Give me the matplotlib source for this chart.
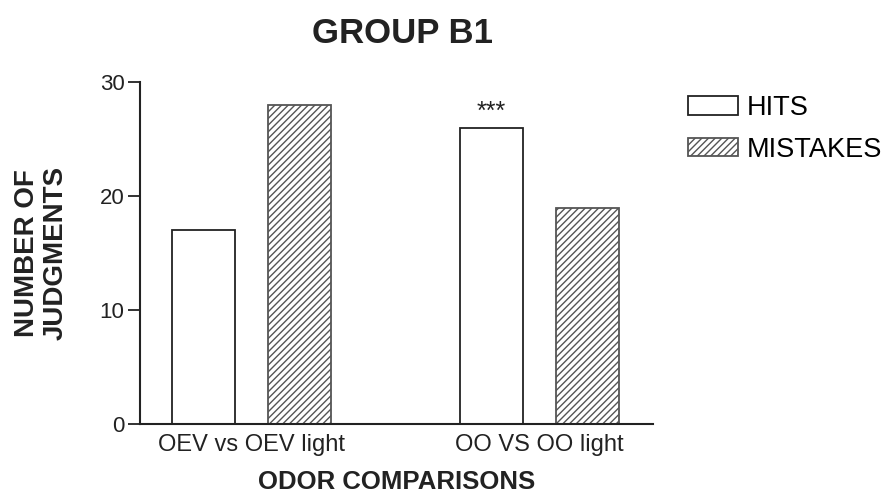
import numpy as np
import matplotlib.pyplot as plt

plt.rcParams['font.family'] = ['Liberation Sans', 'DejaVu Sans']

# data
groups = ['OEV vs OEV light', 'OO VS OO light']
hits = [17, 26]
mistakes = [28, 19]
stars = ['', '***']

fig = plt.figure(figsize=(8.85, 4.92), dpi=100)
ax = fig.add_axes([0.158, 0.138, 0.58, 0.695])

centers = np.array([0.5, 3.5])
w = 0.66
ax.bar(centers - 0.5, hits, w, facecolor='white', edgecolor='#222222',
       linewidth=1.3, label='HITS')
ax.bar(centers + 0.5, mistakes, w, facecolor='white', edgecolor='#555555',
       linewidth=1.3, hatch='/////', label='MISTAKES')

for c, h, s in zip(centers, hits, stars):
    if s:
        ax.text(c - 0.5, h + 0.35, s, ha='center', va='bottom', fontsize=18,
                color='#222222')

ax.set_xlim(-0.66, 4.68)
ax.set_ylim(0, 30)
ax.set_yticks([0, 10, 20, 30])
ax.set_xticks(centers)
ax.set_xticklabels(groups)
ax.tick_params(axis='x', length=0, labelsize=17, pad=7, colors='#222222')
ax.tick_params(axis='y', length=9, width=1.3, labelsize=16, pad=2,
               direction='out', colors='#222222')
for side in ['top', 'right']:
    ax.spines[side].set_visible(False)
for side in ['left', 'bottom']:
    ax.spines[side].set_linewidth(1.5)
    ax.spines[side].set_color('#222222')

fig.text(0.455, 0.965, 'GROUP B1', fontsize=25, fontweight='bold',
         ha='center', va='top', color='#222222')
ax.set_xlabel('ODOR COMPARISONS', fontsize=18.5, fontweight='bold',
              labelpad=10, color='#222222')
ax.set_ylabel('NUMBER OF\nJUDGMENTS', fontsize=20, fontweight='bold',
              labelpad=22, linespacing=1.15, color='#222222')

ax.legend(loc='upper left', bbox_to_anchor=(0.777, 0.807),
          bbox_transform=fig.transFigure, frameon=False, fontsize=19.5,
          handlelength=1.85, handleheight=0.68, handletextpad=0.35,
          labelspacing=0.58, borderaxespad=0, borderpad=0)

fig.savefig('out.png', dpi=100)
